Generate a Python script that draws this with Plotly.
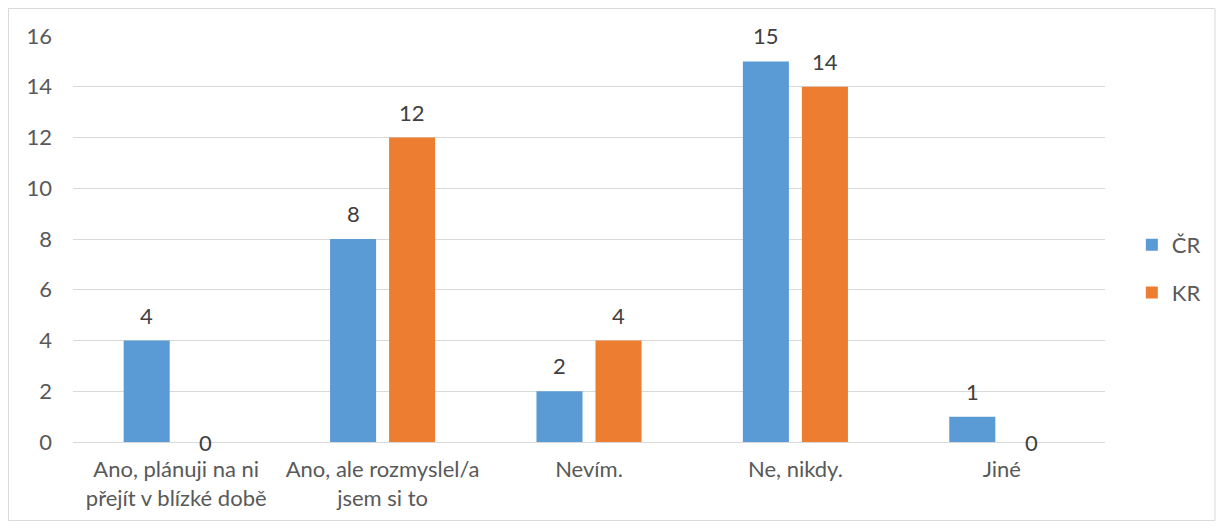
import plotly.graph_objects as go

# Survey answers (categories) and counts per region
categories = ["Ano, plánuji na ni<br>přejít v blízké době", "Ano, ale rozmyslel/a<br>jsem si to",
              "Nevím.", "Ne, nikdy.", "Jiné"]
cr_values = [4, 8, 2, 15, 1]
kr_values = [0, 12, 4, 14, 0]
y_ticks = [0, 2, 4, 6, 8, 10, 12, 14, 16]

FONT = "Lato"
TEXT = "#595959"
GRID = "#D9D9D9"
FS = 22

fig = go.Figure()

fig.add_trace(go.Bar(x=categories, y=cr_values, name="ČR", legendgroup="cr",
                     marker=dict(color="#5B9BD5", line=dict(width=0))))
fig.add_trace(go.Bar(x=categories, y=kr_values, name="KR", legendgroup="kr",
                     marker=dict(color="#ED7D31", line=dict(width=0))))

# data labels above each bar (bars sit 29.5 px either side of the category centre);
# zero values sit on the axis line like in the original
annotations = []
for vals, dx in ((cr_values, -29.5), (kr_values, 29.5)):
    for cat, v in zip(categories, vals):
        annotations.append(dict(x=cat, y=v, text=str(v), showarrow=False,
                                xshift=dx, yshift=10 if v else 0,
                                yanchor="bottom" if v else "middle",
                                font=dict(family=FONT, size=FS, color="#404040")))

fig.update_layout(
    width=1208, height=513,
    barmode="group", bargap=0.428, bargroupgap=0.22,
    paper_bgcolor="white", plot_bgcolor="white",
    font=dict(family=FONT, size=FS, color=TEXT),
    margin=dict(l=65, r=111, t=28, b=79, autoexpand=False),
    showlegend=True,
    legend=dict(x=1.026, y=0.426, xanchor="left", yanchor="middle",
                tracegroupgap=16, font=dict(family=FONT, size=FS, color=TEXT)),
    xaxis=dict(showgrid=False, showline=True, linecolor=GRID, linewidth=1,
               ticks="", ticklabelstandoff=8,
               tickfont=dict(family=FONT, size=FS, color=TEXT)),
    yaxis=dict(range=[0, 16], tickvals=y_ticks, showgrid=True, gridcolor=GRID,
               gridwidth=1, zeroline=False, showline=False, ticks="",
               ticklabelstandoff=20, tickfont=dict(family=FONT, size=FS, color=TEXT)),
    annotations=annotations,
    shapes=[dict(type="rect", xref="paper", yref="paper",
                 x0=-0.0625, x1=1.1066, y0=-0.1933, y1=1.0677,
                 line=dict(color=GRID, width=1))],
)

fig.write_html("out.html")
